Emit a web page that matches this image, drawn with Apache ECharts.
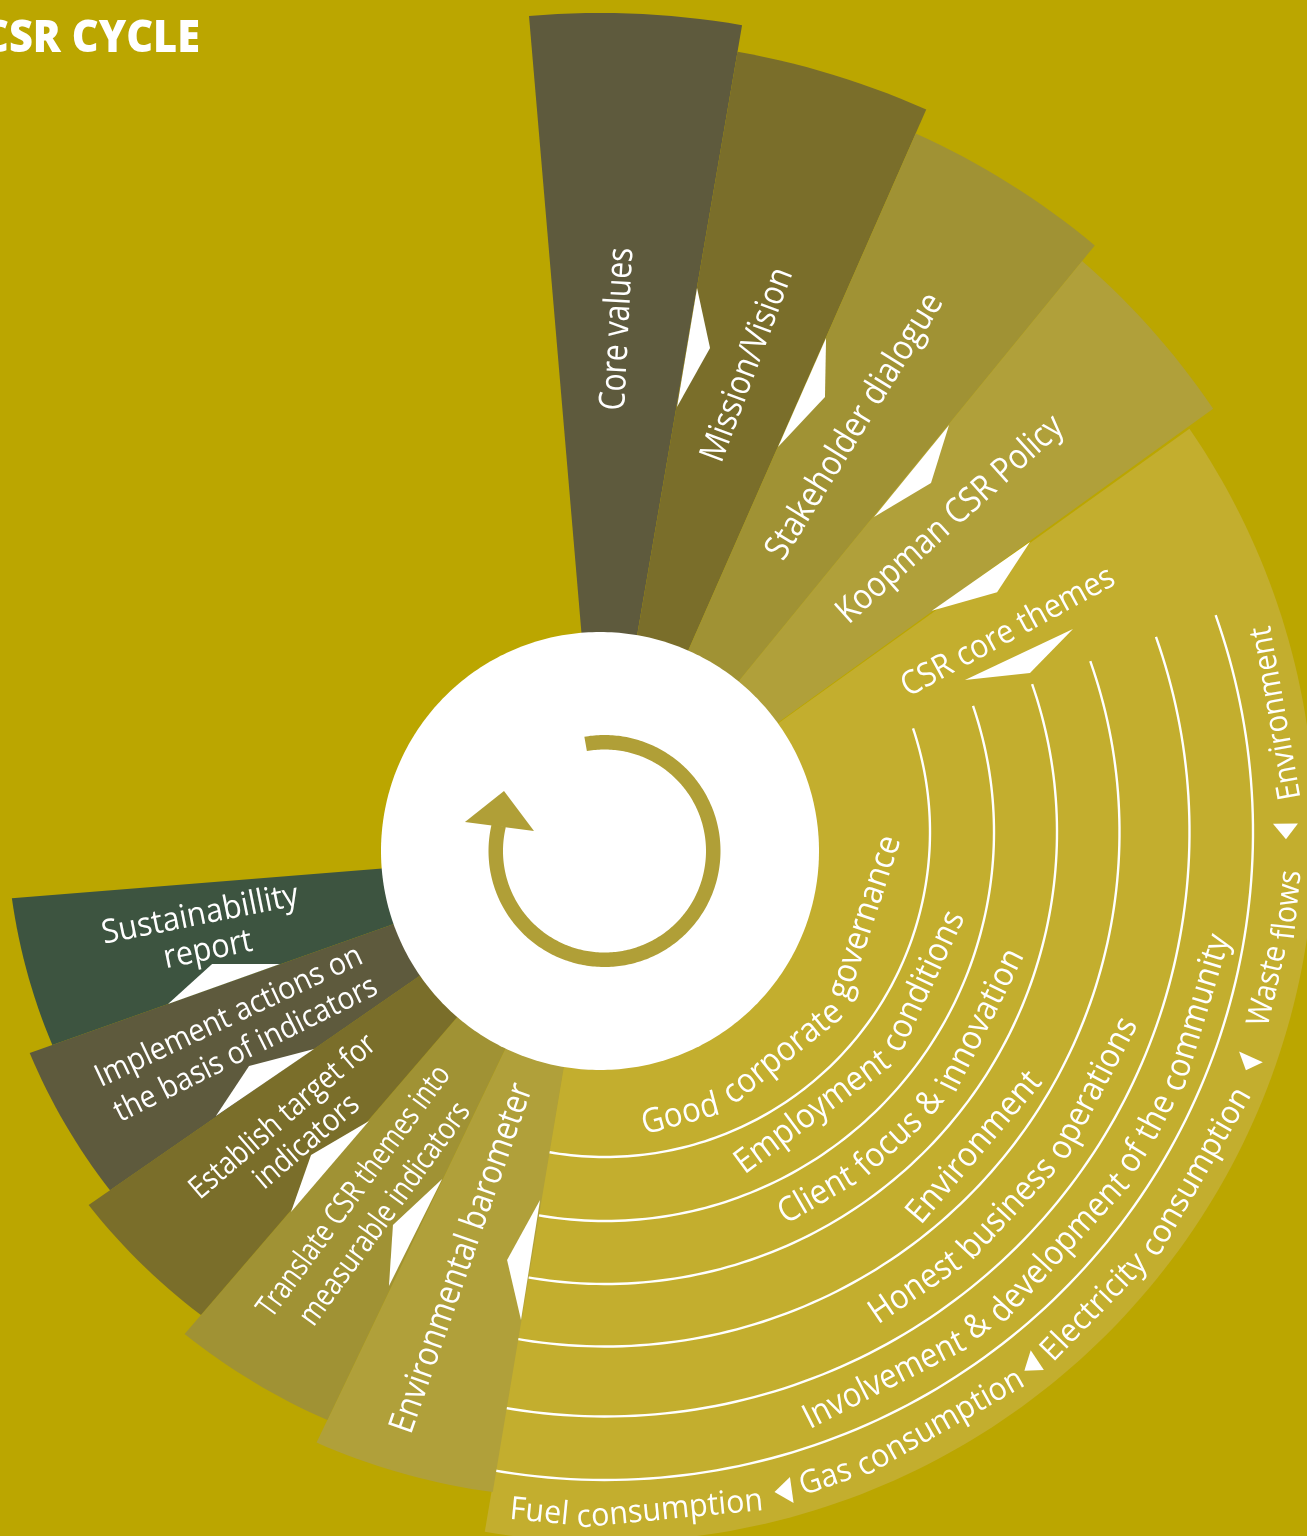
<!DOCTYPE html>
<html><head><meta charset="utf-8">
<style>html,body{margin:0;padding:0;background:#BBA600}#c{width:1307px;height:1536px}</style>
<script src="https://cdn.jsdelivr.net/npm/echarts@6/dist/echarts.min.js"></script>
</head><body><div id="c"></div>
<script>
// ---- wedges around the hub: angle clockwise from north, radius outward
const sectorNames = ['Core values','Mission/Vision','Stakeholder dialogue','Koopman CSR Policy','Environmental barometer','Translate CSR themes','Establish target','Implement actions','Sustainability report'];
const sectorStartAngle = [-4.86, 9.76, 23.75, 39.25, 189.5, 205.6, 220.7, 235.3, 250.5];
const sectorEndAngle   = [9.76, 23.75, 39.25, 54.2, 205.6, 220.7, 235.3, 250.5, 265.4];
const sectorStartRadius = [838, 811, 784, 762, 650, 631, 612, 596, 581];
const sectorEndRadius   = [838, 810, 782, 756, 656, 637, 622, 605, 590];
const sectorColors = ['#5E5A3D','#7A6E2A','#A09234','#B0A03A','#B0A03A','#A09234','#7A6E2A','#5E5A3D','#3D5440'];

// ---- large wedge and its bands
const themeWedge = {apexRadius:19.6, apexAngle:194.7, radius:710, startAngle:55.4, endAngle:189.75};
const bandRadius = [325, 389, 452, 514.5, 584.5, 648];
const bandStartAngle = [71.4, 71.1, 70.9, 70.6, 70.5, 70.45];
const bandEndAngle = 195;

// ---- white pointers between wedges: [radius, angle] triples
const pointerUpper = [[571.3,9.78],[560.6,23.78],[550.7,39.33],[529.5,54.3],[522.5,64.86],[354,189.75],[364,205.7],[355.3,220.55],[347.8,235.3],[339.4,250.55]];
const pointerTip   = [[514.9,12.34],[506.7,26.36],[495,41.97],[474,56.9],[465.4,67.5],[419.4,192.8],[427.5,208.97],[419.4,223.55],[411.6,238.5],[404,253.76]];
const pointerLower = [[450.6,9.84],[441.5,23.78],[432,39.37],[409.7,54.1],[403,64.9],[475.6,189.56],[483.5,205.88],[475.2,220.56],[466.6,235.4],[458.3,250.5]];

// ---- small markers in the outer band
const markerA = [[671,164],[670.7,140.6],[671,109.1],[668,89.3]];
const markerB = [[697,164.3],[694.4,140.8],[697,109.3],[693,89.3]];
const markerC = [[681.5,165.6],[682.7,142.1],[683.8,110.4],[681,90.6]];

// ---- straight labels
const straightLabels = ['Core values','Mission/Vision','Stakeholder dialogue','Koopman CSR Policy','CSR core themes','Environmental barometer','Translate CSR themes into','measurable indicators','Establish target for','indicators','Implement actions on','the basis of indicators','Sustainabillity','report'];
const straightRadius = [522.3,508,495,482,463,430,420,421.9,413.8,413,406.4,406,405,404.3];
const straightAngle  = [1.97,16.9,31,46.6,61.8,198.7,215.8,210.6,230,225.2,245.9,240.7,260.9,255.8];
const straightRotate = [87,69.5,58.3,42,28.5,70.7,53.7,53.9,40.7,40.6,25.3,26.5,11.3,11.5];
const straightLength = [163,204,306,292,238,368,304,268,235,128,292,290,200,90];
const straightSize   = [36,35,35,35,33,35,31,31,31,31,31,31,33,33];

// ---- labels that follow the bands
const curvedLabels = ['Good corporate governance','Employment conditions','Client focus & innovation','Environment','Honest business operations','Involvement & development of the community','Fuel consumption','Gas consumption','Electricity consumption','Waste flows','Environment'];
const curvedStartAngle  = [173,158.3,155.4,141.5,151.1,161.2,188,163.4,139.9,106.5,87.3];
const curvedEndAngle    = [91.2,102.9,106.1,119.5,109.7,99.5,166.7,142.6,112,93.2,72.6];
const curvedStartRadius = [296,354,421,489,552,618,684,683,683,678,678];
const curvedEndRadius   = [276,357,425,492,555,622,684,683,687,690,691];

// ---- hub
const hubRadius = 219;
const cycleRing = {outer:116, inner:101.5, startAngle:-10, endAngle:283.6};
const cycleHead = [[142.5,281.7],[117,300.8],[73.3,285.8]];
const chartTitle = 'CSR CYCLE';

const BG='#BBA600', WEDGE='#C3AE2E', WHITE='#FFFFFF', RING='#B09F37', FONT='"Open Sans"';
const mctx=document.createElement('canvas').getContext('2d');
function measure(t,size,weight){mctx.font=(weight?weight+' ':'')+size+'px '+FONT;return mctx.measureText(t).width;}
function arc(api,r0,r1,a0,a1){
  const n=Math.max(2,Math.ceil(Math.abs(a1-a0))),pts=[];
  for(let i=0;i<=n;i++){const f=i/n;pts.push(api.coord([r0+(r1-r0)*f,a0+(a1-a0)*f]).slice(0,2));}
  return pts;
}
function custom(polarIndex,rows,renderItem){
  return {type:'custom',coordinateSystem:'polar',polarIndex,data:rows,renderItem,silent:true,animation:false};
}
function poly(points,fill){return {type:'polygon',shape:{points},style:{fill}};}
function textEl(p,text,rotDeg,size,scale){
  return {type:'text',x:p[0],y:p[1],rotation:rotDeg*Math.PI/180,scaleX:scale,scaleY:1,
    style:{text,fill:WHITE,font:size+'px '+FONT,align:'center',verticalAlign:'middle'}};
}

const series=[];
// large wedge
series.push(custom(1,[[themeWedge.radius,themeWedge.startAngle]],function(p,api){
  const pts=arc(api,themeWedge.radius,themeWedge.radius,themeWedge.startAngle,themeWedge.endAngle);
  pts.push(api.coord([themeWedge.apexRadius,themeWedge.apexAngle]).slice(0,2));
  return poly(pts,WEDGE);
}));
// band lines
series.push(custom(1,bandRadius.map((r,i)=>[r,bandStartAngle[i]]),function(p,api){
  const i=p.dataIndex;
  return {type:'polyline',shape:{points:arc(api,bandRadius[i],bandRadius[i],bandStartAngle[i],bandEndAngle)},
    style:{stroke:WHITE,lineWidth:2.4,fill:null}};
}));
// markers
series.push(custom(1,markerA,function(p,api){
  const i=p.dataIndex;
  return poly([markerA[i],markerB[i],markerC[i]].map(v=>api.coord(v).slice(0,2)),WHITE);
}));
// curved labels: each word is rotated to the band's tangent
series.push(custom(1,curvedLabels.map((t,i)=>[curvedStartRadius[i],curvedStartAngle[i]]),function(p,api){
  const i=p.dataIndex,size=(i>=6?32:34),text=curvedLabels[i],total=measure(text,size);
  const a0=curvedStartAngle[i],a1=curvedEndAngle[i],r0=curvedStartRadius[i],r1=curvedEndRadius[i];
  const len=(r0+r1)/2*Math.abs(a1-a0)*Math.PI/180,scale=len/total,children=[];
  let off=0;
  text.split(' ').forEach(function(w){
    const ww=measure(w,size),f=(off+ww/2)/total,a=a0+(a1-a0)*f;
    let r=r0+(r1-r0)*f;
    const chord=ww*scale; r-=chord*chord/(8*r)/2;
    children.push(textEl(api.coord([r,a]).slice(0,2),w,180-a,size,scale));
    off+=ww+measure(' ',size);
  });
  return {type:'group',children};
}));
// wedges
series.push(custom(0,sectorNames.map((n,i)=>[sectorEndRadius[i],sectorStartAngle[i]]),function(p,api){
  const i=p.dataIndex;
  const pts=arc(api,sectorStartRadius[i],sectorEndRadius[i],sectorStartAngle[i],sectorEndAngle[i]);
  pts.push(api.coord([0,0]).slice(0,2));
  return poly(pts,sectorColors[i]);
}));
// pointers
series.push(custom(0,pointerTip,function(p,api){
  const i=p.dataIndex;
  return poly([pointerUpper[i],pointerTip[i],pointerLower[i]].map(v=>api.coord(v).slice(0,2)),WHITE);
}));
// straight labels
series.push(custom(0,straightLabels.map((t,i)=>[straightRadius[i],straightAngle[i]]),function(p,api){
  const i=p.dataIndex,size=straightSize[i];
  return textEl(api.coord([straightRadius[i],straightAngle[i]]).slice(0,2),straightLabels[i],straightRotate[i],size,straightLength[i]/measure(straightLabels[i],size));
}));
// hub
series.push(custom(0,[[hubRadius,0]],function(p,api){
  return poly(arc(api,hubRadius,hubRadius,0,360),WHITE);
}));
series.push(custom(2,[[cycleRing.outer,cycleRing.startAngle]],function(p,api){
  const a=arc(api,cycleRing.outer,cycleRing.outer,cycleRing.startAngle,cycleRing.endAngle);
  const b=arc(api,cycleRing.inner,cycleRing.inner,cycleRing.endAngle,cycleRing.startAngle);
  return poly(a.concat(b),RING);
}));
series.push(custom(2,[cycleHead[0]],function(p,api){
  return poly(cycleHead.map(v=>api.coord(v).slice(0,2)),RING);
}));

const polarCentres=[[600,851],[605,832],[604.5,851]];
const titleFont={weight:800,size:44,width:218};
const option={
  animation:false,
  backgroundColor:BG,
  graphic:[{type:'text',x:200,y:39,scaleX:titleFont.width/measure(chartTitle,titleFont.size,titleFont.weight),
    style:{text:chartTitle,fill:WHITE,font:titleFont.weight+' '+titleFont.size+'px '+FONT,align:'right',verticalAlign:'middle'}}],
  polar:polarCentres.map(c=>({center:c,radius:[0,1000]})),
  angleAxis:polarCentres.map((c,i)=>({polarIndex:i,type:'value',min:0,max:360,startAngle:90,clockwise:true,show:false})),
  radiusAxis:polarCentres.map((c,i)=>({polarIndex:i,type:'value',min:0,max:1000,show:false})),
  series
};
const chart=echarts.init(document.getElementById('c'),null,{width:1307,height:1536,renderer:'canvas'});
chart.setOption(option);
</script></body></html>
